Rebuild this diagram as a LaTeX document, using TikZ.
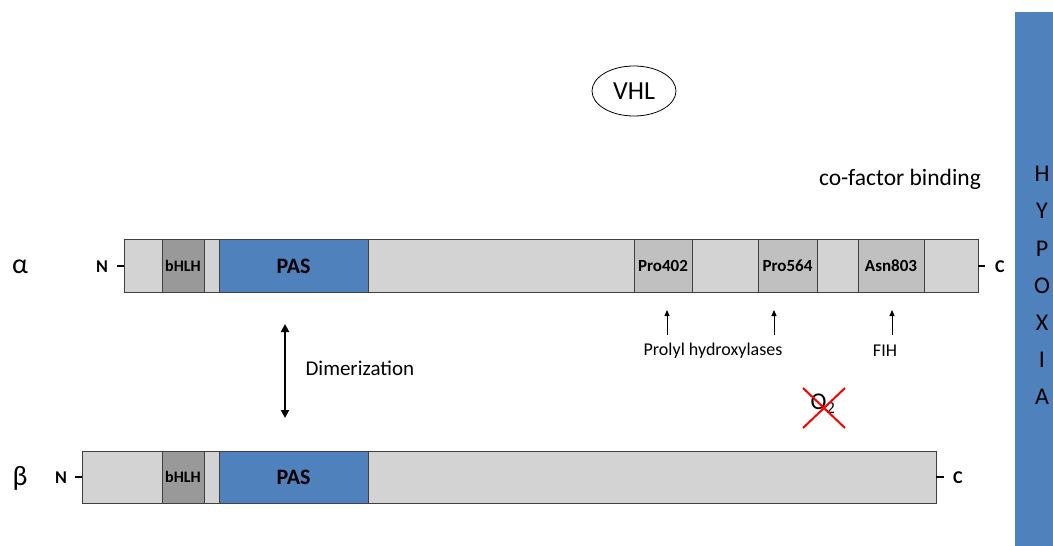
\documentclass[tikz,border=0pt]{standalone}
\usepackage{fontspec}
\setmainfont{Carlito}
\usetikzlibrary{arrows.meta,shapes.geometric}
\definecolor{domlight}{HTML}{D3D3D3}
\definecolor{domdark}{HTML}{999999}
\definecolor{dommid}{HTML}{C0C0C0}
\definecolor{pasblue}{HTML}{4F81BD}
\newcommand{\fsz}[1]{\fontsize{#1}{#1}\selectfont}
\tikzset{
  seg/.style={draw=black!75, line width=0.8pt, fill=domlight},
  hlh/.style={seg, fill=domdark},
  pas/.style={seg, fill=pasblue},
  site/.style={seg, fill=dommid},
  lbl/.style={font=\bfseries\fsz{16}},
  sitelbl/.style={font=\bfseries\fsz{17}},
  paslbl/.style={font=\bfseries\fsz{22}},
  term/.style={font=\bfseries\fsz{18}},
  tick/.style={line width=1.2pt},
  upar/.style={-{Triangle[length=6pt,width=5pt]}, line width=0.9pt},
  dimar/.style={{Triangle[length=8pt,width=8pt]}-{Triangle[length=8pt,width=8pt]}, line width=2.4pt},
  cross/.style={red, line width=2pt},
  body/.style={font=\fsz{24}},
  greek/.style={font=\fsz{28}}
}
\begin{document}
\begin{tikzpicture}[x=1pt,y=-1pt]
\useasboundingbox (0,0) rectangle (1053,546);

% side band
\fill[pasblue] (1015,12) rectangle (1053,546);
\foreach \l [count=\i from 0] in {H,Y,P,O,X,I,A}
  \node[body] (hx\i) at (1042,{174+37.2*\i}) {\l};

% alpha subunit
\draw[seg] (124,239) rectangle (978,292);
\draw[hlh] (162,239) rectangle (204,292);
\draw[pas] (219,239) rectangle (368,292);
\draw[site] (634,239) rectangle (692,292);
\draw[site] (758,239) rectangle (817,292);
\draw[site] (858,239) rectangle (924,292);
\node[lbl] (ab) at (183,266) {bHLH};
\node[paslbl] (ap) at (293.5,266) {PAS};
\node[sitelbl] (p402) at (663,266) {Pro402};
\node[sitelbl] (p564) at (787.5,266) {Pro564};
\node[sitelbl] (a803) at (891,266) {Asn803};
\coordinate (aN) at (124,266);
\coordinate (aC) at (978,266);
\node[term] (aNl) at (102,267) {N};
\node[term] (aCl) at (1000,267) {C};
\draw[tick] (aN) -- ++(-7,0);
\draw[tick] (aC) -- ++(7,0);
\node[greek] (alpha) at (20,267) {α};

% beta subunit
\draw[seg] (82,451) rectangle (936,503);
\draw[hlh] (162,451) rectangle (204,503);
\draw[pas] (219,451) rectangle (368,503);
\node[lbl] (bb) at (183,477) {bHLH};
\node[paslbl] (bp) at (293.5,477) {PAS};
\coordinate (bN) at (82,477);
\coordinate (bC) at (936,477);
\node[term] (bNl) at (61,478) {N};
\node[term] (bCl) at (958,478) {C};
\draw[tick] (bN) -- ++(-7,0);
\draw[tick] (bC) -- ++(8,0);
\node[greek] (beta) at (20,478) {β};

% dimerization
\coordinate (d1) at (285,324);
\coordinate (d2) at (285,418);
\draw[dimar] (d1) -- (d2);
\node[font=\fsz{21}, anchor=west] (dim) at (302,368) {Dimerization};

% hydroxylation sites
\coordinate (h1) at (667,335);
\coordinate (h2) at (774,335);
\coordinate (h3) at (892,335);
\draw[upar] (h1) -- (667,310);
\draw[upar] (h2) -- (774,310);
\draw[upar] (h3) -- (892,310);
\node[font=\fsz{18}] (phd) at (713,351) {Prolyl hydroxylases};
\node[font=\fsz{18}] (fih) at (885,351) {FIH};

% oxygen absent
\node[font=\fsz{24}] (o2) at (823,404) {O\textsubscript{2}};
\draw[cross] (803,388) -- (845,428);
\draw[cross] (803,428) -- (845,388);

% VHL
\node[draw, ellipse, line width=0.8pt, minimum width=84pt, minimum height=50pt, inner sep=0pt, font=\fsz{26}] (vhl) at (634,91) {VHL};

\node[font=\fsz{23.5}] (cof) at (900,179) {co-factor binding};
\end{tikzpicture}
\end{document}
